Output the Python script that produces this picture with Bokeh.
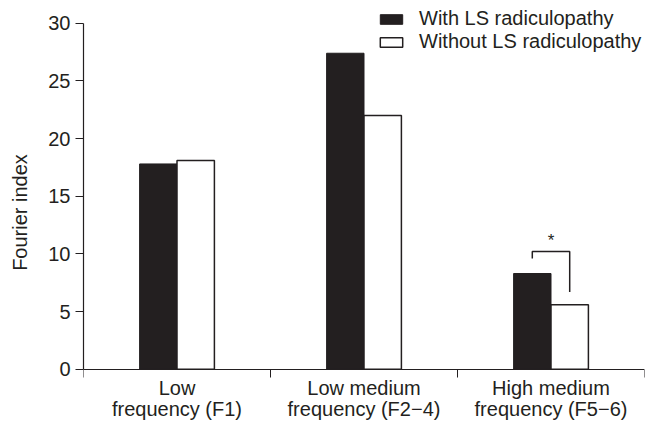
from bokeh.plotting import figure
from bokeh.models import Range1d, FixedTicker, Legend, LegendItem, ColumnDataSource
from bokeh.core.properties import value
from bokeh.embed import file_html
from bokeh.resources import INLINE

categories = ["Low\nfrequency (F1)", "Low medium\nfrequency (F2\u22124)", "High medium\nfrequency (F5\u22126)"]
with_ls = [17.8, 27.4, 8.3]
without_ls = [18.1, 22.0, 5.6]
series_names = ["With LS radiculopathy", "Without LS radiculopathy"]
y_ticks = [0, 5, 10, 15, 20, 25, 30]
# significance bracket (group index 2): left/right leg ends and top
sig_group = 2
sig_left_end = 9.6
sig_right_end = 6.7
sig_top = 10.2

FONT = "Liberation Sans"
INK = "#231f20"
FS = "20px"

centers = [i + 0.5 for i in range(len(categories))]
bw = 0.2

p = figure(width=651, height=422, output_backend="svg", toolbar_location=None,
           x_range=Range1d(0, 3), y_range=Range1d(-4.62, 31.8),
           min_border_left=83, min_border_right=7, min_border_top=2, min_border_bottom=0)
p.outline_line_color = None
p.xgrid.grid_line_color = None
p.ygrid.grid_line_color = None
p.background_fill_color = "white"
p.border_fill_color = "white"

src_w = ColumnDataSource(dict(x=[c - bw / 2 for c in centers], top=with_ls))
src_wo = ColumnDataSource(dict(x=[c + bw / 2 for c in centers], top=without_ls))
r1 = p.vbar(x="x", top="top", width=bw, source=src_w, fill_color=INK, line_color=INK, line_width=1)
r2 = p.vbar(x="x", top="top", width=bw, source=src_wo, fill_color="white", line_color=INK, line_width=1.5)

# significance bracket
xl = centers[sig_group] - bw / 2
xr = centers[sig_group] + bw / 2
p.line(x=[xl, xl, xr, xr], y=[sig_left_end, sig_top, sig_top, sig_right_end], line_color=INK, line_width=1.5)
p.text(x=[centers[sig_group]], y=[sig_top + 0.1], text=["*"], text_font=value(FONT),
       text_font_size="17px", text_align="center", text_baseline="bottom", text_color=INK)

# axes
xa = p.xaxis[0]
xa.fixed_location = 0
xa.ticker = FixedTicker(ticks=centers, minor_ticks=[0, 1, 2, 3])
xa.major_label_overrides = {c: lab for c, lab in zip(centers, categories)}
xa.major_tick_line_color = None
xa.major_tick_out = 0
xa.major_tick_in = 0
xa.minor_tick_line_color = INK
xa.minor_tick_out = 8
xa.minor_tick_in = 0
xa.axis_line_color = INK
xa.axis_line_width = 1.2
xa.major_label_text_font = FONT
xa.major_label_text_font_size = FS
xa.major_label_text_line_height = 0.95
xa.major_label_text_color = INK
xa.major_label_standoff = 0

ya = p.yaxis[0]
ya.ticker = FixedTicker(ticks=y_ticks)
ya.bounds = (0, 30)
ya.minor_tick_line_color = None
ya.major_tick_out = 8
ya.major_tick_in = 0
ya.major_tick_line_color = INK
ya.axis_line_color = INK
ya.axis_line_width = 1.2
ya.major_label_text_font = FONT
ya.major_label_text_font_size = FS
ya.major_label_text_color = INK
ya.major_label_standoff = 5
ya.axis_label = "Fourier index"
ya.axis_label_text_font = FONT
ya.axis_label_text_font_size = FS
ya.axis_label_text_font_style = "normal"
ya.axis_label_text_color = INK
ya.axis_label_standoff = 14

legend = Legend(items=[LegendItem(label=series_names[0], renderers=[r1]),
                       LegendItem(label=series_names[1], renderers=[r2])],
                location=(294, 369), orientation="vertical",
                glyph_width=28, glyph_height=12, label_height=20, label_standoff=14,
                spacing=0, padding=0, margin=0,
                label_text_font=FONT, label_text_font_size=FS, label_text_color=INK,
                border_line_color=None, background_fill_alpha=0)
p.add_layout(legend, "center")

open("out.html", "w").write(file_html(p, INLINE))
